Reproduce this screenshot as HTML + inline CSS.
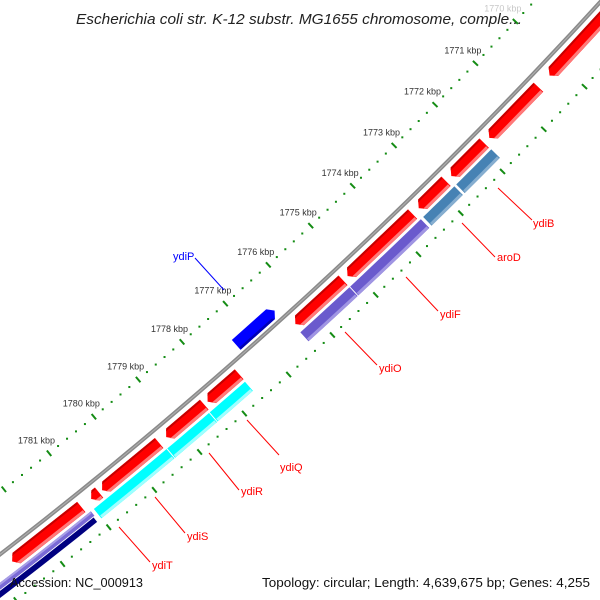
<!DOCTYPE html>
<html><head><meta charset="utf-8"><style>
html,body{margin:0;padding:0;background:#fff;}
svg{display:block;font-family:"Liberation Sans",sans-serif;}
</style></head><body>
<svg id="map" width="600" height="600" viewBox="0 0 600 600" xmlns="http://www.w3.org/2000/svg">
<rect x="0" y="0" width="600" height="600" fill="#fff"/>
<g id="rulers"></g>
<g id="backbone"></g>
<g id="features"></g>
<g id="labels"></g>
<text x="76" y="24" font-size="15" font-style="italic" fill="#222" textLength="446" lengthAdjust="spacingAndGlyphs">Escherichia coli str. K-12 substr. MG1655 chromosome, comple...</text>
<text x="10" y="587" font-size="13" fill="#111" textLength="133" lengthAdjust="spacingAndGlyphs">Accession: NC_000913</text>
<text x="262" y="587" font-size="13" fill="#111" textLength="328" lengthAdjust="spacingAndGlyphs">Topology: circular; Length: 4,639,675 bp; Genes: 4,255</text>
</svg>
<script>
// forward strand features (kbp), arrow tip at end
var fwdStarts = [1768.0, 1770.54, 1771.87, 1772.79, 1773.59, 1775.23, 1777.62, 1778.41, 1779.42, 1780.75, 1781.14];
var fwdEnds   = [1770.28, 1771.76, 1772.68, 1773.46, 1775.14, 1776.35, 1778.35, 1779.28, 1780.70, 1780.94, 1782.66];
// second band features (kbp)
var bandNames  = ['ydiB','aroD','ydiF','ydiO','ydiQ','ydiR','ydiS','ydiT'];
var bandStarts = [1771.86, 1772.75, 1773.55, 1775.23, 1777.63, 1778.44, 1779.39, 1781.06];
var bandEnds   = [1772.72, 1773.51, 1775.23, 1776.38, 1778.44, 1779.39, 1781.01, 1783.5];
var bandColors = ['steel','steel','slate','slate','cyan','cyan','cyan','slatenavy'];
// reverse strand feature
var revNames  = ['ydiP'];
var revStarts = [1776.44];
var revEnds   = [1777.34];
// ruler
var tickStart = 1768, tickEnd = 1783.4, minorStep = 0.2;
var tickLabelKbp = [1770,1771,1772,1773,1774,1775,1776,1777,1778,1779,1780,1781];
// feature labels: name, text x, y, leader from, leader to
var labelNames = ['ydiP','ydiB','aroD','ydiF','ydiO','ydiQ','ydiR','ydiS','ydiT'];
var labelX = [173,533,497,440,379,280,241,187,152];
var labelY = [260,227,261,318,372,471,495,540,569];
var leadX1 = [195,498,462,406,345,247,209,155,119];
var leadY1 = [258,188,223,277,332,420,453,497,527];
var leadX2 = [224,532,495,438,377,279,239,185,150];
var leadY2 = [290,220,257,311,365,455,490,533,562];

var CX=-2881, CY=-3178, A0=47.55, K0=1776, DEG=0.71;
var NS='http://www.w3.org/2000/svg';
function P(r,k){var a=(A0+(k-K0)*DEG)*Math.PI/180;return [CX+r*Math.cos(a),CY+r*Math.sin(a)];}
function el(t,attrs,parent){var e=document.createElementNS(NS,t);for(var a in attrs)e.setAttribute(a,attrs[a]);parent.appendChild(e);return e;}
function pts(a){return a.map(function(p){return p[0].toFixed(2)+','+p[1].toFixed(2);}).join(' ');}
function arcBox(r1,r2,s,e){var a=[],n=6,i;for(i=0;i<=n;i++)a.push(P(r1,s+(e-s)*i/n));for(i=n;i>=0;i--)a.push(P(r2,s+(e-s)*i/n));return a;}

var rul=document.getElementById('rulers');
[4666,4761].forEach(function(r,ri){
  var nSteps=Math.round((tickEnd-tickStart)/minorStep);
  for(var i=0;i<=nSteps;i++){
    var k=tickStart+i*minorStep;
    var major=Math.abs(k-Math.round(k))<1e-6;
    if(major){
      var p1=P(r-3.5,k),p2=P(r+3.5,k);
      var ln=el('line',{x1:p1[0],y1:p1[1],x2:p2[0],y2:p2[1],stroke:'#148c14','stroke-width':2},rul);
      
      
    } else {
      var p=P(r,k);
      var d=el('rect',{x:p[0]-1,y:p[1]-1,width:2,height:2,fill:'#148c14'},rul);
      
      
    }
  }
});
tickLabelKbp.forEach(function(k){
  var p=P(4666,k);
  var t=el('text',{x:p[0]+6,y:p[1]-10,'text-anchor':'end','font-size':9,fill:k===1770?'#c8c8c8':'#333'},rul);
  t.textContent=k+' kbp';
  
  
});

var bb=document.getElementById('backbone');
var bp=[];for(var k=1767;k<=1784;k+=0.25)bp.push(P(4715,k));
var bl=el('polyline',{points:pts(bp),fill:'none',stroke:'#8a8a8a','stroke-width':4},bb);


var bl2=el('polyline',{points:pts(bp),fill:'none',stroke:'#b0b0b0','stroke-width':1},bb);



var fg=document.getElementById('features');
var TIP=0.1;
fwdStarts.forEach(function(s,i){
  var e=fwdEnds[i],r1=4721,r2=4735,rm=4728;
  var shape=[P(r1,s),P(r1,e-TIP),P(rm,e),P(r2,e-TIP),P(r2,s)];
  var g=el('g',{},fg);
  
  
  el('polygon',{points:pts(shape),fill:'#ff0000',stroke:'#fff','stroke-width':0.8},g);
  el('polygon',{points:pts([P(r1+0.5,s+0.02),P(r1+0.5,e-TIP-0.01),P(r1+2.5,e-TIP+0.03),P(r1+2.5,s+0.02)]),fill:'#c40000'},g);
  el('polygon',{points:pts([P(r2-3.5,s+0.02),P(r2-3.5,e-TIP+0.05),P(r2-0.5,e-TIP-0.01),P(r2-0.5,s+0.02)]),fill:'#ff7a7a'},g);
});
var pal={steel:['#4682b4','#86aed0'],slate:['#6a5acd','#a095e3'],cyan:['#00ffff','#9effff']};
bandStarts.forEach(function(s,i){
  var e=bandEnds[i],r1=4737,r2=4750;
  var g=el('g',{},fg);
  
  
  if(bandColors[i]==='slatenavy'){
    el('polygon',{points:pts(arcBox(r1,4743.5,s,e)),fill:'#7a6ad6',stroke:'#fff','stroke-width':0.8},g);
    el('polygon',{points:pts(arcBox(r1+0.5,r1+2.5,s+0.02,e)),fill:'#a89ee6'},g);
    el('polygon',{points:pts(arcBox(4743.5,r2,s+0.03,e)),fill:'#000080',stroke:'#fff','stroke-width':0.8},g);
  } else {
    var c=pal[bandColors[i]];
    el('polygon',{points:pts(arcBox(r1,r2,s,e)),fill:c[0],stroke:'#fff','stroke-width':0.9},g);
    el('polygon',{points:pts(arcBox(r2-3.5,r2-0.5,s+0.02,e-0.02)),fill:c[1]},g);
  }
});
revStarts.forEach(function(s,i){
  var e=revEnds[i],r1=4697,r2=4711,rm=4704;
  var g=el('g',{},fg);
  
  
  el('polygon',{points:pts([P(r1,e),P(r1,s+TIP),P(rm,s),P(r2,s+TIP),P(r2,e)]),fill:'#0000ff',stroke:'#fff','stroke-width':0.8},g);
  el('polygon',{points:pts([P(r2-3,e-0.02),P(r2-3,s+TIP+0.04),P(r2-0.5,s+TIP),P(r2-0.5,e-0.02)]),fill:'#0000b4'},g);
});

var lg=document.getElementById('labels');
labelNames.forEach(function(n,i){
  var col=n==='ydiP'?'#0000ff':'#ff0000';
  var ln=el('line',{x1:leadX1[i],y1:leadY1[i],x2:leadX2[i],y2:leadY2[i],stroke:col,'stroke-width':1},lg);
  
  
  var t=el('text',{x:labelX[i],y:labelY[i],'font-size':11,fill:col},lg);
  t.textContent=n;
  
  
});
</script>
</body></html>
